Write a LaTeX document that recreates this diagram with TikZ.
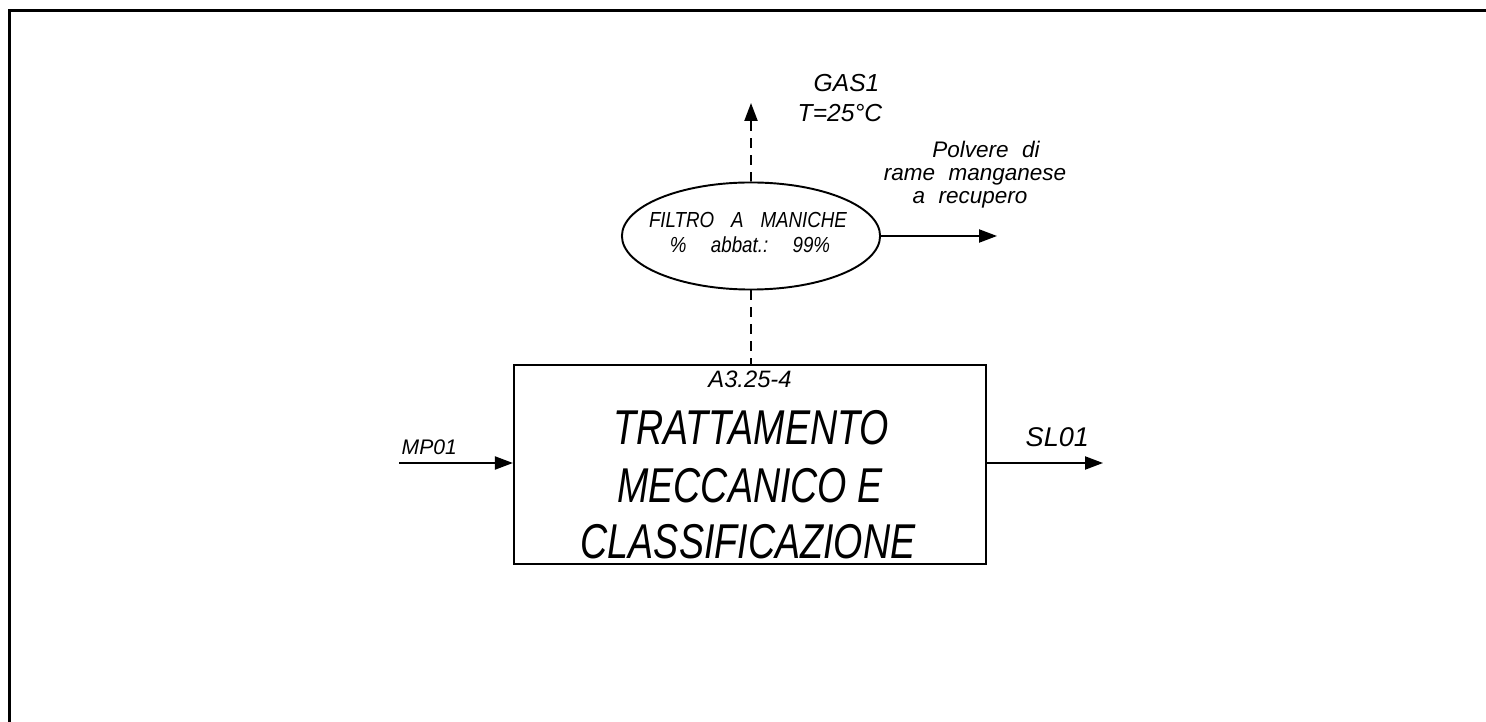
\documentclass[tikz,border=0pt]{standalone}
\usepackage{fontspec}
\usepackage{graphicx}
\setmainfont{Liberation Sans}
\usetikzlibrary{arrows.meta,shapes.geometric}
\newcommand{\wsp}{\hspace{0.9em}}
\newcommand{\vsp}{\hspace{1.3em}}
\newcommand{\psp}{\hspace{0.6em}}
\tikzset{
  ln/.style={line width=0.55pt},
  arr/.style={ln, -{Triangle[length=5.1pt,width=3.7pt]}},
  dsh/.style={ln, dash pattern=on 2.8pt off 2pt},
  lbl/.style={inner sep=0pt, anchor=base},
  bigtxt/.style={lbl, font=\fontsize{13.9}{16}\selectfont\itshape},
  smtxt/.style={lbl, font=\fontsize{6.4}{7.5}\selectfont\itshape},
  filttxt/.style={lbl, font=\fontsize{6.2}{7}\selectfont\itshape},
}
\begin{document}
\begin{tikzpicture}[x=0.01cm,y=-0.01cm]
\useasboundingbox (0,0) rectangle (1486,722);
\fill[white] (0,0) rectangle (1486,722);
\draw[line width=0.85pt] (9.5,740) -- (9.5,10.5) -- (1500,10.5);

\node[draw, ln, minimum width=4.72cm, minimum height=1.99cm, inner sep=0pt] (box) at (750,464.5) {};
\node[ellipse, draw, ln, minimum width=2.58cm, minimum height=1.07cm, inner sep=0pt] (filt) at (751,236) {};

% box texts
\node[lbl, font=\fontsize{6.75}{8}\selectfont\itshape] (code) at (750,388) {A3.25-4};
\node[bigtxt] (t1) at (751,445) {\scalebox{0.77}[1]{TRATTAMENTO}};
\node[bigtxt] (t2) at (750,502) {\scalebox{0.77}[1]{MECCANICO E}};
\node[bigtxt] (t3) at (748,558) {\scalebox{0.77}[1]{CLASSIFICAZIONE}};

% filter texts
\node[filttxt] (f1) at (748,228) {\scalebox{0.86}[1]{FILTRO\wsp A\wsp MANICHE}};
\node[filttxt] (f2) at (750,253) {\scalebox{0.86}[1]{\%\vsp abbat.:\vsp 99\%}};

% gas
\coordinate (gastip) at (751,103);
\draw[dsh] (filt.south) -- (filt.south |- box.north);
\draw[dsh, -{Triangle[length=5.1pt,width=3.7pt]}] (filt.north) -- (gastip);
\node[lbl, anchor=base west, font=\fontsize{7}{8}\selectfont\itshape] (gas1) at (813,92) {GAS1};
\node[lbl, anchor=base west, font=\fontsize{7}{8}\selectfont\itshape] (gas2) at (797,122) {T=25°C};

% dust
\coordinate (dusttip) at (997,236);
\draw[arr] (filt.east) -- (dusttip);
\node[smtxt] (p1) at (986,158) {Polvere\psp di};
\node[smtxt] (p2) at (975,181) {rame\psp manganese};
\node[smtxt] (p3) at (970,204) {a\psp recupero};

% input / output
\coordinate (mpstart) at (399,463);
\draw[arr] (mpstart) -- (box.west |- mpstart);
\node[lbl, anchor=base west, font=\fontsize{6}{7}\selectfont\itshape] (mp) at (401,455) {MP01};
\coordinate (sltip) at (1103,463);
\draw[arr] (box.east |- sltip) -- (sltip);
\node[lbl, anchor=base west, font=\fontsize{7.7}{9}\selectfont\itshape] (sl) at (1025,446) {SL01};
\end{tikzpicture}
\end{document}
